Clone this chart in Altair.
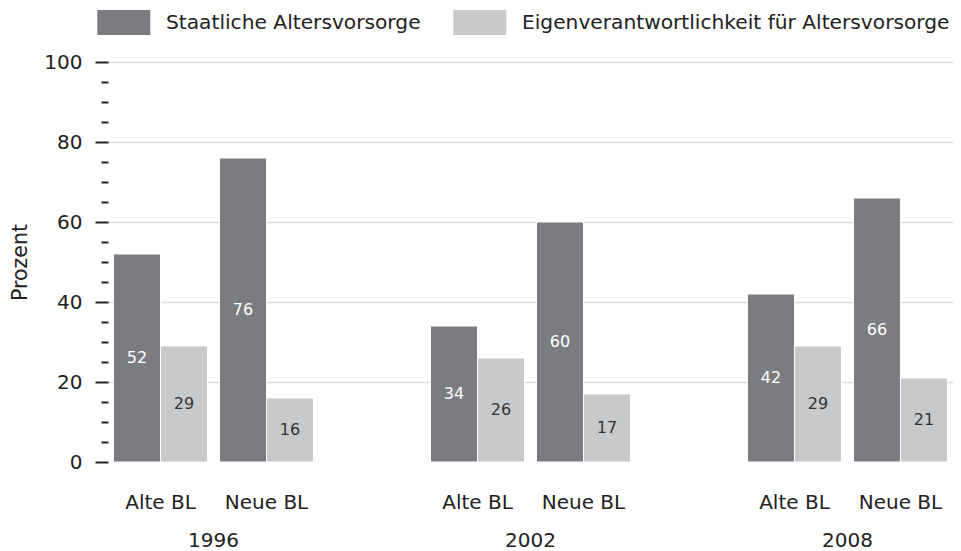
import altair as alt
import pandas as pd

# ---- data ----
years = ["1996", "2002", "2008"]
regions = ["Alte BL", "Neue BL"]
series = ["Staatliche Altersvorsorge", "Eigenverantwortlichkeit für Altersvorsorge"]
# one value per (year, region) in the order 1996 Alte, 1996 Neue, 2002 Alte, ...
staatlich = [52, 76, 34, 60, 42, 66]
eigen = [29, 16, 26, 17, 29, 21]
tick_values = list(range(0, 101, 5))

rows = []
i = 0
for y in years:
    for r in regions:
        rows.append({"year": y, "region": r, "series": series[0], "value": staatlich[i]})
        rows.append({"year": y, "region": r, "series": series[1], "value": eigen[i]})
        i += 1
df = pd.DataFrame(rows)

FONT = "DejaVu Sans"
DARK = "#7b7c80"
LIGHT = "#c8c9cb"
INK = "#222222"

x_enc = alt.X(
    "year:N",
    sort=years,
    scale=alt.Scale(paddingInner=0.369, paddingOuter=0.0174),
    axis=alt.Axis(
        title=None, ticks=False, domain=False, labelAngle=0,
        labelPadding=84, labelBaseline="alphabetic",
        labelFont=FONT, labelFontSize=20, labelColor=INK,
    ),
)

y_axis = alt.Axis(
    values=tick_values,
    labelExpr="datum.value % 20 === 0 ? datum.label : ''",
    labelOverlap=False,
    tickSize=13,
    tickDash={"condition": {"test": "datum.value % 20 === 0", "value": [20, 0]}, "value": [7, 20]},
    tickWidth=2, tickColor=INK,
    grid=True,
    gridOpacity={"condition": {"test": "datum.value % 20 === 0 && datum.value > 0", "value": 1}, "value": 0},
    gridColor="#dedede", gridWidth=1.5,
    domain=False, labelPadding=13,
    labelFont=FONT, labelFontSize=20, labelColor=INK,
    title="Prozent", titleFont=FONT, titleFontSize=20.5, titleFontWeight="normal",
    titleColor=INK, titleAngle=-90, titleX=-82, titleY=200,
    titleBaseline="alphabetic", titleAlign="center",
)
y_scale = alt.Scale(domain=[0, 100], nice=False)

legend = alt.Legend(
    title=None, orient="none", legendX=-10.7, legendY=-66, direction="horizontal",
    symbolType="M-1,-0.47H1V0.47H-1Z", symbolSize=2809, symbolStrokeWidth=0,
    symbolOpacity=1, labelFont=FONT, labelFontSize=20.2, labelColor=INK,
    labelOffset=15.7, columnPadding=32, labelLimit=600,
)

color_enc = alt.Color(
    "series:N", sort=series,
    scale=alt.Scale(domain=series, range=[DARK, LIGHT]),
    legend=legend,
)


def region_layer(reg, rng, label_dx):
    base = alt.Chart(df).transform_filter(alt.datum.region == reg)
    off = alt.XOffset(
        "series:N", sort=series,
        scale=alt.Scale(domain=series, range=rng, paddingInner=0, paddingOuter=0),
    )
    bars = base.mark_bar(stroke="white", strokeWidth=1).encode(
        x=x_enc,
        xOffset=off,
        y=alt.Y("value:Q", scale=y_scale, axis=y_axis, title="Prozent"),
        color=color_enc,
    )
    values = base.transform_calculate(mid="datum.value / 2").mark_text(
        font=FONT, fontSize=16, baseline="middle", align="center"
    ).encode(
        x=x_enc,
        xOffset=off,
        y=alt.Y("mid:Q", scale=y_scale, axis=y_axis, title="Prozent"),
        text=alt.Text("value:Q"),
        color=alt.condition(alt.datum.series == series[0], alt.value("white"), alt.value("#333333")),
    )
    labels = base.transform_filter(alt.datum.series == series[0]).mark_text(
        font=FONT, fontSize=20, baseline="alphabetic", align="center",
        dx=label_dx, dy=47, color=INK,
    ).encode(
        x=x_enc,
        y=alt.Y(datum=0, type="quantitative", scale=y_scale, axis=y_axis, title="Prozent"),
        text="region:N",
    )
    return alt.layer(bars, values, labels)


alte = region_layer("Alte BL", [0, 94], -53)
neue = region_layer("Neue BL", [106, 200], 53)

chart = (
    alt.layer(alte, neue)
    .resolve_scale(xOffset="independent")
    .properties(
        width=845,
        height=400,
        padding={"left": 100, "top": 54, "right": 0, "bottom": 88},
        autosize=alt.AutoSizeParams(type="none"),
        background="white",
    )
    .configure_view(stroke=None)
)

chart.save("out.html", embed_options={"renderer": "svg", "actions": False})
